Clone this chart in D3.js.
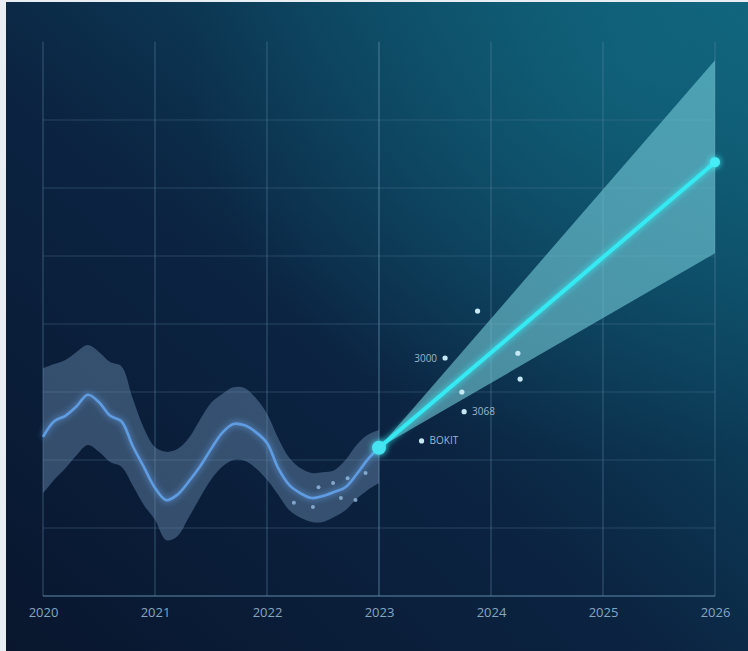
<!DOCTYPE html>
<html><head><meta charset="utf-8">
<script src="https://cdn.jsdelivr.net/npm/d3@7"></script>
<style>html,body{margin:0;padding:0;background:#e8eef2;}svg{display:block;}</style>
</head><body>
<script>
// ---- data ----
const years = [2020, 2021, 2022, 2023, 2024, 2025, 2026];
const histX = d3.range(31).map(i => 2020 + i * 0.1);
const histMid = [2.34,2.57,2.65,2.79,2.96,2.85,2.65,2.57,2.21,1.90,1.59,1.41,1.49,1.68,1.90,2.16,2.40,2.53,2.51,2.41,2.25,1.88,1.63,1.51,1.44,1.47,1.53,1.60,1.79,2.01,2.18];
const histHigh = [3.35,3.41,3.47,3.59,3.69,3.59,3.44,3.38,2.91,2.47,2.19,2.12,2.16,2.32,2.59,2.84,2.97,3.07,3.06,2.91,2.68,2.32,2.03,1.88,1.81,1.82,1.85,2.00,2.22,2.37,2.44];
const histLow = [1.51,1.71,1.88,2.07,2.22,2.12,1.97,1.90,1.63,1.34,1.12,0.82,0.88,1.15,1.44,1.71,1.90,2.00,1.99,1.88,1.71,1.49,1.26,1.15,1.09,1.09,1.16,1.26,1.43,1.56,1.66];
const histDotX = [2022.24, 2022.41, 2022.46, 2022.59, 2022.66, 2022.72, 2022.79, 2022.88];
const histDotY = [1.37, 1.31, 1.60, 1.66, 1.44, 1.73, 1.41, 1.81];
const foreX = [2023, 2026];
const foreMid = [2.18, 6.38];
const foreHigh = [2.18, 7.88];
const foreLow = [2.18, 5.04];
const scatX = [2023.38, 2023.59, 2023.74, 2023.76, 2023.88, 2024.24, 2024.26];
const scatY = [2.28, 3.50, 3.00, 2.71, 4.19, 3.57, 3.19];
const scatLabels = ["BOKIT", "3000", "", "3068", "", "", ""];
const scatLabelSide = ["right", "left", "", "right", "", "", ""];

// ---- layout ----
const W = 748, H = 651;
const svg = d3.select("body").append("svg").attr("width", W).attr("height", H);
const defs = svg.append("defs");
const bg = defs.append("linearGradient").attr("id","bg").attr("x1","0").attr("y1","1").attr("x2","1").attr("y2","0");
bg.append("stop").attr("offset","0").attr("stop-color","#09162e");
bg.append("stop").attr("offset","0.45").attr("stop-color","#0b2442");
bg.append("stop").attr("offset","0.8").attr("stop-color","#0d4a64");
bg.append("stop").attr("offset","1").attr("stop-color","#0f6078");
const rg = defs.append("radialGradient").attr("id","glowbg").attr("cx","0.85").attr("cy","0.1").attr("r","0.6");
rg.append("stop").attr("offset","0").attr("stop-color","#137088").attr("stop-opacity",0.5);
rg.append("stop").attr("offset","1").attr("stop-color","#137088").attr("stop-opacity",0);
const f = defs.append("filter").attr("id","glow").attr("x","-50%").attr("y","-50%").attr("width","200%").attr("height","200%");
f.append("feGaussianBlur").attr("stdDeviation",3).attr("result","b");
const fm = f.append("feMerge"); fm.append("feMergeNode").attr("in","b"); fm.append("feMergeNode").attr("in","SourceGraphic");

svg.append("rect").attr("x",6).attr("y",2).attr("width",W-6).attr("height",H-2).attr("fill","url(#bg)");
svg.append("rect").attr("x",6).attr("y",2).attr("width",W-6).attr("height",H-2).attr("fill","url(#glowbg)");

const x = d3.scaleLinear().domain([2020, 2026]).range([43, 715]);
const y = d3.scaleLinear().domain([0, 7]).range([596, 120]);

// grid
const grid = svg.append("g");
grid.selectAll(".h").data(d3.range(1, 8)).join("line")
  .attr("x1", x(2020)).attr("x2", x(2026)).attr("y1", d => y(d)).attr("y2", d => y(d))
  .attr("stroke", "#4f7896").attr("stroke-opacity", 0.4).attr("stroke-width", 1.2);
grid.selectAll(".v").data(years).join("line")
  .attr("x1", d => x(d)).attr("x2", d => x(d)).attr("y1", y(8.15)).attr("y2", y(0))
  .attr("stroke", "#5a86a4").attr("stroke-opacity", d => d === 2023 ? 0.7 : 0.45).attr("stroke-width", 1.2);
grid.append("line").attr("x1", x(2020)).attr("x2", x(2026)).attr("y1", y(0)).attr("y2", y(0))
  .attr("stroke", "#5a86a4").attr("stroke-opacity", 0.7).attr("stroke-width", 1.5);

// axis
const axis = d3.axisBottom(x).tickValues(years).tickFormat(d3.format("d")).tickSize(0).tickPadding(12);
const ag = svg.append("g").attr("transform", `translate(0,${y(0)})`).call(axis);
ag.select(".domain").remove();
ag.selectAll("text").attr("fill", "#86a6c0").attr("font-family", "'Open Sans', Roboto, sans-serif").attr("font-size", 13);

// historical band
const hist = histX.map((d, i) => ({x: d, m: histMid[i], lo: histLow[i], hi: histHigh[i]}));
svg.append("path").datum(hist)
  .attr("d", d3.area().x(d => x(d.x)).y0(d => y(d.lo)).y1(d => y(d.hi)).curve(d3.curveCatmullRom))
  .attr("fill", "#6a8cb0").attr("fill-opacity", 0.45);

// forecast cone
const fore = foreX.map((d, i) => ({x: d, m: foreMid[i], lo: foreLow[i], hi: foreHigh[i]}));
svg.append("path").datum(fore)
  .attr("d", d3.area().x(d => x(d.x)).y0(d => y(d.lo)).y1(d => y(d.hi)))
  .attr("fill", "#74ccd8").attr("fill-opacity", 0.6);

// historical line
svg.append("path").datum(hist)
  .attr("d", d3.line().x(d => x(d.x)).y(d => y(d.m)).curve(d3.curveCatmullRom))
  .attr("fill", "none").attr("stroke", "#5e9ce2").attr("stroke-width", 2.6).attr("filter", "url(#glow)");

svg.append("g").selectAll("circle").data(histDotX).join("circle")
  .attr("cx", d => x(d)).attr("cy", (d, i) => y(histDotY[i])).attr("r", 2)
  .attr("fill", "#9cc4ea").attr("fill-opacity", 0.75);

// forecast line
svg.append("path").datum(fore)
  .attr("d", d3.line().x(d => x(d.x)).y(d => y(d.m)))
  .attr("fill", "none").attr("stroke", "#34eaf2").attr("stroke-width", 4).attr("filter", "url(#glow)");

// scatter
const sc = svg.append("g");
sc.selectAll("circle").data(scatX).join("circle")
  .attr("cx", d => x(d)).attr("cy", (d, i) => y(scatY[i])).attr("r", 2.6)
  .attr("fill", "#c6e8f2");
sc.selectAll("text").data(scatX).join("text")
  .attr("x", (d, i) => x(d) + (scatLabelSide[i] === "left" ? -8 : 8))
  .attr("y", (d, i) => y(scatY[i]) + 3.5)
  .attr("text-anchor", (d, i) => scatLabelSide[i] === "left" ? "end" : "start")
  .attr("fill", "#9ab8cc").attr("font-family", "'Open Sans', sans-serif").attr("font-size", 10)
  .text((d, i) => scatLabels[i]);

// end points
svg.append("circle").attr("cx", x(foreX[0])).attr("cy", y(foreMid[0])).attr("r", 7)
  .attr("fill", "#44e4f0").attr("filter", "url(#glow)");
svg.append("circle").attr("cx", x(foreX[1])).attr("cy", y(foreMid[1])).attr("r", 5)
  .attr("fill", "#44eef6").attr("filter", "url(#glow)");
</script>
</body></html>
